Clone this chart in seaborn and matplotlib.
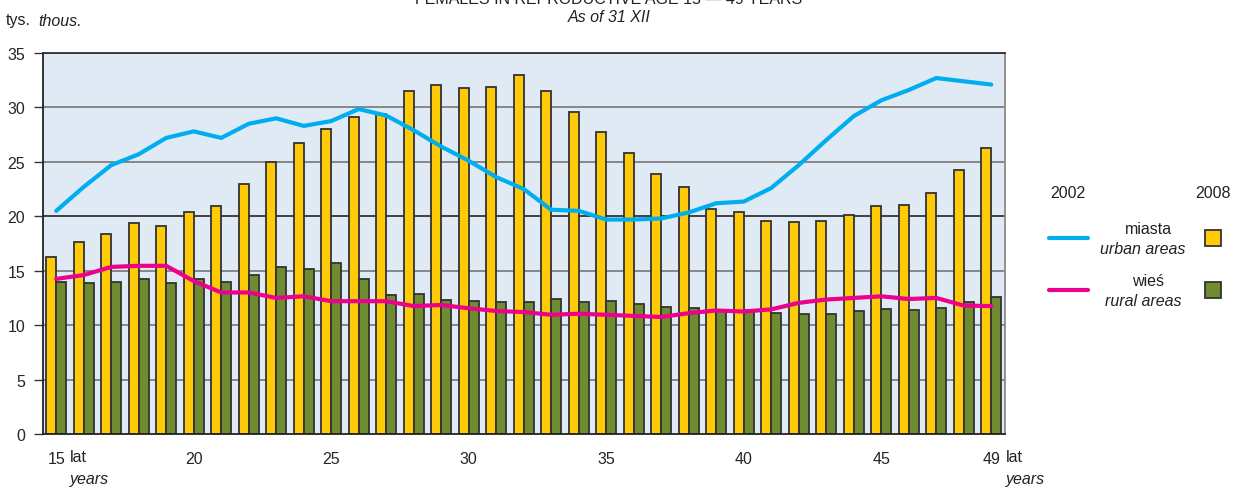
import numpy as np
import pandas as pd
import matplotlib
matplotlib.use("Agg")
import matplotlib.pyplot as plt
from matplotlib.lines import Line2D
from matplotlib.patches import Rectangle
import seaborn as sns

# Women aged 15-49 by single year of age, thousands
ages = list(range(15, 50))
urban_2008 = [16.3, 17.6, 18.35, 19.35, 19.15, 20.4, 20.9, 23.0, 25.0, 26.7,
              28.05, 29.15, 29.4, 31.5, 32.05, 31.8, 31.9, 33.0, 31.5, 29.6,
              27.7, 25.8, 23.9, 22.7, 20.7, 20.4, 19.6, 19.5, 19.6, 20.1,
              20.9, 21.0, 22.1, 24.25, 26.25]
rural_2008 = [14.0, 13.9, 14.0, 14.2, 13.9, 14.2, 14.0, 14.65, 15.3, 15.2,
              15.7, 14.2, 12.8, 12.9, 12.3, 12.2, 12.1, 12.1, 12.4, 12.1,
              12.2, 11.95, 11.7, 11.6, 11.3, 11.35, 11.15, 11.05, 11.05, 11.3,
              11.5, 11.4, 11.6, 12.1, 12.55]
urban_2002 = [20.5, 22.7, 24.7, 25.7, 27.2, 27.8, 27.2, 28.5, 29.0, 28.3,
              28.75, 29.85, 29.25, 27.9, 26.4, 25.1, 23.6, 22.5, 20.6, 20.5,
              19.7, 19.7, 19.8, 20.35, 21.2, 21.35, 22.6, 24.7, 27.0, 29.2,
              30.65, 31.6, 32.7, 32.4, 32.1]
rural_2002 = [14.25, 14.6, 15.35, 15.45, 15.45, 14.05, 13.0, 13.0, 12.5, 12.65,
              12.2, 12.2, 12.2, 11.75, 11.85, 11.55, 11.3, 11.2, 10.95, 11.05,
              10.95, 10.85, 10.75, 11.1, 11.35, 11.25, 11.45, 12.05, 12.35, 12.5,
              12.65, 12.4, 12.5, 11.8, 11.75]
x_ticks = [15, 20, 25, 30, 35, 40, 45, 49]
y_ticks = [0, 5, 10, 15, 20, 25, 30, 35]

YELLOW = "#FFCB08"
GREEN = "#6F8C30"
BLUE = "#00AEEF"
PINK = "#EC008C"
BG = "#E0EAF5"
EDGE = "#333333"

sns.set_style("white")
plt.rcParams["font.family"] = ["Liberation Sans Narrow", "Liberation Sans", "DejaVu Sans"]
plt.rcParams["text.color"] = "#222222"

bars = pd.DataFrame({
    "age": ages * 2,
    "value": urban_2008 + rural_2008,
    "area": ["urban"] * len(ages) + ["rural"] * len(ages),
})
lines = pd.DataFrame({
    "age": ages * 2,
    "value": urban_2002 + rural_2002,
    "area": ["urban"] * len(ages) + ["rural"] * len(ages),
})

fig = plt.figure(figsize=(12.33, 4.89), dpi=100)
ax = fig.add_axes([42.5 / 1233, 54 / 489, (1005 - 42.5) / 1233, (435 - 54) / 489])
ax.set_facecolor(BG)

# horizontal grid: the 20 line is drawn darker
for v in y_ticks[1:]:
    ax.axhline(v, color="#333333" if v in (20, 35) else "#7f7f7f",
               lw=1.3, zorder=0.5)

sns.barplot(data=bars, x="age", y="value", hue="area", hue_order=["urban", "rural"],
            palette={"urban": YELLOW, "rural": GREEN}, native_scale=True,
            width=0.72, gap=0, edgecolor=EDGE, linewidth=1.3, saturation=1,
            errorbar=None, legend=False, ax=ax, zorder=2)
sns.lineplot(data=lines, x="age", y="value", hue="area", hue_order=["urban", "rural"],
             palette={"urban": BLUE, "rural": PINK}, linewidth=3.0,
             legend=False, ax=ax, zorder=3)

ax.set_xlim(14.5, 49.5)
ax.set_ylim(0, 35)
ax.set_xticks(x_ticks)
ax.set_yticks(y_ticks)
ax.set_xlabel("")
ax.set_ylabel("")
ax.tick_params(axis="x", length=0, pad=12, labelsize=11.5)
ax.tick_params(axis="y", length=6.5, width=1.0, color="#333333", pad=6, labelsize=11.5,
               left=True)
for side, sp in ax.spines.items():
    sp.set_visible(True)
    sp.set_linewidth(1.3)
ax.spines["left"].set_color("#222222")
ax.spines["bottom"].set_color("#222222")
ax.spines["top"].set_color("#333333")
ax.spines["right"].set_color("#8a8a8a")

# titles and unit labels
fig.text(609 / 1233, 1 - 4 / 489, "FEMALES IN REPRODUCTIVE AGE 15 — 49 YEARS",
         ha="center", va="baseline", fontsize=11.5)
fig.text(609 / 1233, 1 - 17 / 489, "As of 31 XII", ha="center", va="center",
         fontsize=11.5, style="italic")
fig.text(6 / 1233, 1 - 21 / 489, "tys.", ha="left", va="center", fontsize=11.5)
fig.text(38 / 1233, 1 - 21 / 489, "thous.", ha="left", va="center", fontsize=11.5,
         style="italic")

# axis unit next to the first and last age
for xl in (70, 1006):
    fig.text(xl / 1233, 1 - 458 / 489, "lat", ha="left", va="center", fontsize=11.5)
    fig.text(xl / 1233, 1 - 480 / 489, "years", ha="left", va="center", fontsize=11.5,
             style="italic")

# legend
fs = 11.5
fig.text(1068 / 1233, 1 - 193 / 489, "2002", ha="center", va="center", fontsize=fs)
fig.text(1213 / 1233, 1 - 193 / 489, "2008", ha="center", va="center", fontsize=fs)
fig.text(1148 / 1233, 1 - 229 / 489, "miasta", ha="center", va="center", fontsize=fs)
fig.text(1143 / 1233, 1 - 250 / 489, "urban areas", ha="center", va="center",
         fontsize=fs, style="italic")
fig.text(1148 / 1233, 1 - 281 / 489, "wieś", ha="center", va="center", fontsize=fs)
fig.text(1143 / 1233, 1 - 302 / 489, "rural areas", ha="center", va="center",
         fontsize=fs, style="italic")
for ypx, col in ((238.5, BLUE), (291, PINK)):
    fig.add_artist(Line2D([1049 / 1233, 1088 / 1233], [1 - ypx / 489] * 2,
                          color=col, lw=3.0, transform=fig.transFigure))
for ypx, col in ((238.5, YELLOW), (291, GREEN)):
    fig.add_artist(Rectangle((1205 / 1233, 1 - (ypx + 8) / 489), 16 / 1233, 16 / 489,
                             facecolor=col, edgecolor=EDGE, lw=1.3,
                             transform=fig.transFigure))

fig.savefig("out.png", dpi=100)
